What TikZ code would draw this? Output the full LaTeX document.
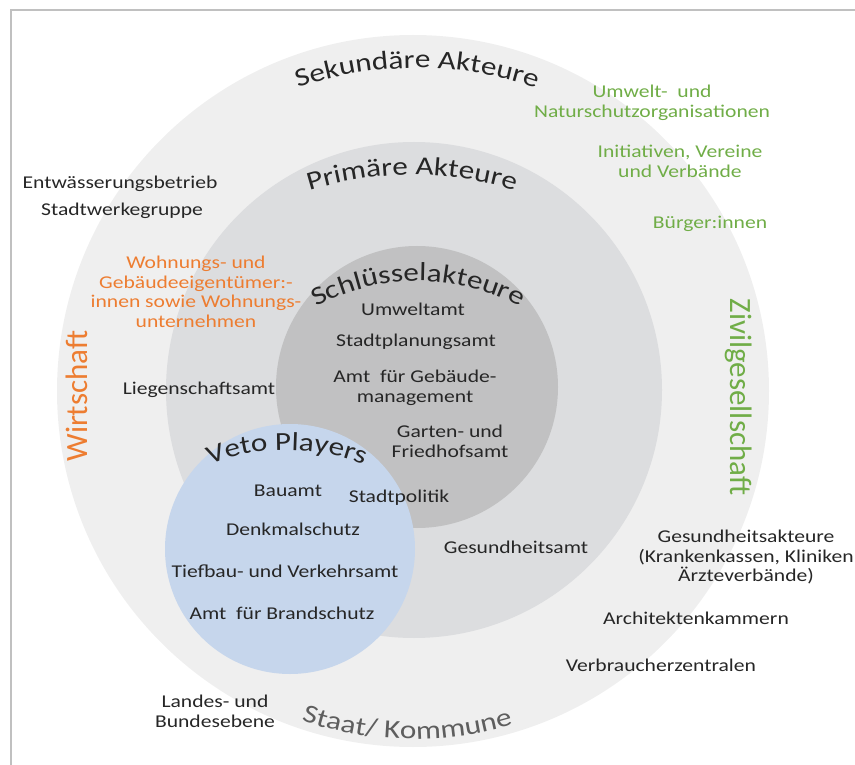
\documentclass[tikz,border=0pt]{standalone}
\usepackage{fontspec}
\setmainfont{Carlito}[FakeStretch=1.2]
\newfontfamily\sidefont{Carlito}
\usetikzlibrary{decorations.text}
\definecolor{ink}{HTML}{262626}
\definecolor{secfill}{HTML}{EFEFEF}
\definecolor{primfill}{HTML}{DCDDDF}
\definecolor{keyfill}{HTML}{C1C1C2}
\definecolor{vetofill}{HTML}{C6D6EC}
\definecolor{civgreen}{HTML}{70AD47}
\definecolor{ecoorange}{HTML}{ED7D31}
\definecolor{stategray}{HTML}{5E5E5E}
\definecolor{framegray}{HTML}{C0C0C0}
\newcommand\bodysize{\fontsize{18}{19.5}\selectfont}
\newcommand\headsize{\fontsize{26}{28}\selectfont}
\newcommand\sidesize{\sidefont\fontsize{31}{33}\selectfont}

\begin{document}
\begin{tikzpicture}[x=1pt, y=1pt,
  actor/.style={font=\bodysize, text=ink, align=center, inner sep=0pt, anchor=base},
  block/.style={actor, anchor=north},
  civil/.style={text=civgreen},
  market/.style={text=ecoorange},
  side/.style={font=\sidesize, anchor=center},
  ring label/.style={decorate, decoration={text along path, text align=center,
      text color=ink, text={|\headsize|#1}}}]
  \useasboundingbox (0,0) rectangle (855,-765);
  \draw[framegray, line width=1.5pt] (11,-765) -- (11,-10) -- (855,-10);

  % rings
  \fill[secfill] (413,-391) circle[radius=356];
  \fill[primfill] (414,-390) circle[radius=248];
  \fill[keyfill] (417,-387) circle[radius=141];
  \fill[vetofill] (290,-549) circle[radius=125];

  % ring titles
  \path[ring label={Sekundäre Akteure}] (417,-435) ++(125:367) arc[start angle=125, end angle=55, radius=367];
  \path[ring label={Primäre Akteure}] (412,-521) ++(125:346) arc[start angle=125, end angle=55, radius=346];
  \path[ring label={Schlüsselakteure}] (418,-493) ++(140:212) arc[start angle=140, end angle=40, radius=212];
  \path[ring label={Veto Players}] (287,-656) ++(135:206) arc[start angle=135, end angle=45, radius=206];
  \path[ring label={Staat/ Kommune}, decoration={text color=stategray}] (413,-391) ++(229:348) arc[start angle=229, end angle=309, radius=348];

  % sectors
  \node[actor, market, side, rotate=90] (wirt) at (77,-396) {Wirtschaft};
  \node[actor, civil, side, rotate=-90] (zivil) at (739,-397) {Zivilgesellschaft};

  % secondary actors
  \node[actor] (entw) at (120,-189) {Entwässerungsbetrieb};
  \node[actor] (stw) at (122,-215) {Stadtwerkegruppe};
  \node[block, civil] (natur) at (652,-85) {Umwelt-~ und\\Naturschutzorganisationen};
  \node[block, civil] (init) at (680,-145) {Initiativen, Vereine\\und Verbände};
  \node[actor, civil] (buerg) at (710,-229) {Bürger:innen};
  \node[block] (gesk) at (746,-530) {Gesundheitsakteure\\(Krankenkassen, Kliniken\\Ärzteverbände)};
  \node[actor] (arch) at (696,-624) {Architektenkammern};
  \node[actor] (verb) at (661,-671) {Verbraucherzentralen};
  \node[block] (land) at (215,-695) {Landes- und\\Bundesebene};

  % primary actors
  \node[block, market] (wohn) at (196,-256) {Wohnungs- und\\Gebäudeeigentümer:-\\innen sowie Wohnungs-\\unternehmen};
  \node[actor] (lieg) at (199,-394) {Liegenschaftsamt};
  \node[actor] (gesa) at (516,-553) {Gesundheitsamt};

  % key actors
  \node[actor] (umwa) at (413,-315) {Umweltamt};
  \node[actor] (stpl) at (416,-346) {Stadtplanungsamt};
  \node[block] (gebm) at (415,-370) {Amt~ für Gebäude-\\management};
  \node[block] (gart) at (450,-425) {Garten- und\\Friedhofsamt};
  \node[actor] (stpo) at (399,-502) {Stadtpolitik};

  % veto players
  \node[actor] (bau) at (288,-496) {Bauamt};
  \node[actor] (denk) at (293,-535) {Denkmalschutz};
  \node[actor] (tief) at (285,-577) {Tiefbau- und Verkehrsamt};
  \node[actor] (brand) at (282,-619) {Amt~ für Brandschutz};
\end{tikzpicture}
\end{document}
